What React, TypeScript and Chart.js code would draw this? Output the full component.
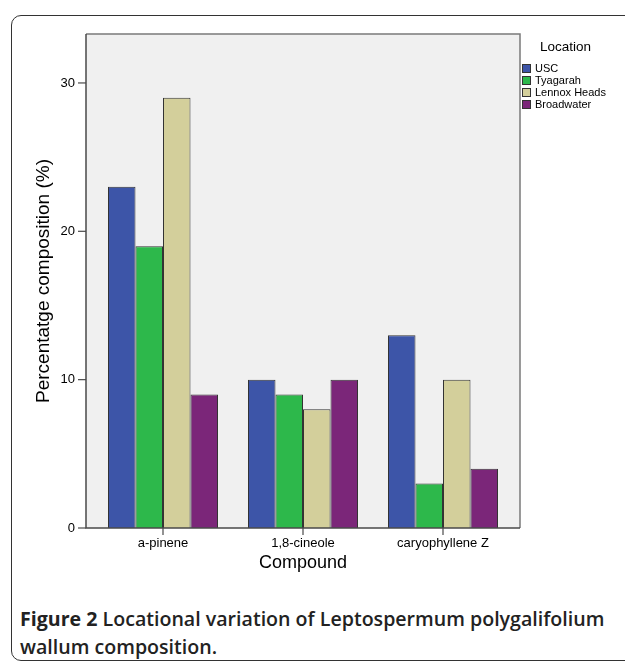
import React, { useEffect, useRef } from "react";
import { Chart, registerables } from "chart.js";

Chart.register(...registerables);

const categories = ["a-pinene", "1,8-cineole", "caryophyllene Z"];
const seriesNames = ["USC", "Tyagarah", "Lennox Heads", "Broadwater"];
const seriesColors = ["#3d55a8", "#2db84b", "#d3cf9b", "#7b2679"];
const uscValues = [23, 10, 13];
const tyagarahValues = [19, 9, 3];
const lennoxValues = [29, 8, 10];
const broadwaterValues = [9, 10, 4];
const yTickValues = [0, 10, 20, 30];
const yMax = 33.3;

const seriesValues = [uscValues, tyagarahValues, lennoxValues, broadwaterValues];

const FONT = "'Liberation Sans', Arial, sans-serif";

const framePlugin = {
  id: "frame",
  beforeDatasetsDraw(chart: any) {
    const { ctx, chartArea: a } = chart;
    const L = a.left - 7;
    const R = a.right + 7;
    ctx.save();
    ctx.fillStyle = "#f0f0f0";
    ctx.fillRect(L, a.top, R - L, a.bottom - a.top);
    ctx.restore();
  },
  afterDatasetsDraw(chart: any) {
    const { ctx, chartArea: a, scales } = chart;
    const L = a.left - 7;
    const R = a.right + 7;
    ctx.save();
    ctx.lineWidth = 1.5;
    ctx.strokeStyle = "#7a7a7a";
    ctx.beginPath();
    ctx.moveTo(L, a.top);
    ctx.lineTo(R, a.top);
    ctx.lineTo(R, a.bottom);
    ctx.stroke();
    ctx.strokeStyle = "#4a4a4a";
    ctx.beginPath();
    ctx.moveTo(L, a.top);
    ctx.lineTo(L, a.bottom);
    ctx.lineTo(R, a.bottom);
    ctx.stroke();
    ctx.lineWidth = 1.2;
    yTickValues.forEach((v) => {
      const y = scales.y.getPixelForValue(v);
      ctx.beginPath();
      ctx.moveTo(L - 8, y);
      ctx.lineTo(L, y);
      ctx.stroke();
    });
    categories.forEach((_, i) => {
      const x = scales.x.getPixelForTick(i);
      ctx.beginPath();
      ctx.moveTo(x, a.bottom);
      ctx.lineTo(x, a.bottom + 7);
      ctx.stroke();
    });
    ctx.restore();
  },
};

export default function App() {
  const ref = useRef<HTMLCanvasElement | null>(null);

  useEffect(() => {
    if (!ref.current) return;
    const chart = new Chart(ref.current, {
      type: "bar",
      data: {
        labels: categories,
        datasets: seriesNames.map((name, i) => ({
          label: name,
          data: seriesValues[i],
          backgroundColor: seriesColors[i],
          borderColor: "#333333",
          borderWidth: 1,
          categoryPercentage: 0.786,
          barPercentage: 1.0,
        })),
      },
      options: {
        animation: false,
        responsive: false,
        maintainAspectRatio: false,
        layout: { padding: { top: 34, right: 112, left: 0, bottom: 0 } },
        plugins: {
          legend: { display: false },
          tooltip: { enabled: false },
        },
        scales: {
          x: {
            grid: { display: false, drawTicks: false },
            border: { display: false },
            ticks: {
              color: "#000",
              padding: 8,
              font: { family: FONT, size: 13 },
            },
            title: {
              display: true,
              text: "Compound",
              color: "#000",
              font: { family: FONT, size: 18 },
              padding: { top: 0, bottom: 16 },
            },
            afterFit: (s: any) => {
              s.height = 62;
            },
          },
          y: {
            min: 0,
            max: yMax,
            grid: { display: false, drawTicks: false },
            border: { display: false },
            afterBuildTicks: (s: any) => {
              s.ticks = yTickValues.map((v) => ({ value: v }));
            },
            ticks: {
              color: "#000",
              padding: 18,
              font: { family: FONT, size: 13 },
            },
            title: {
              display: true,
              text: "Percentatge composition (%)",
              color: "#000",
              font: { family: FONT, size: 19 },
              padding: { top: 32, bottom: 0 },
            },
            afterFit: (s: any) => {
              s.width = 93;
            },
          },
        },
      },
      plugins: [framePlugin],
    });
    return () => chart.destroy();
  }, []);

  return (
    <div
      style={{
        position: "fixed",
        left: 0,
        top: 0,
        width: 625,
        height: 662,
        overflow: "hidden",
        background: "#fff",
      }}
    >
      <div
        style={{
          position: "absolute",
          left: 11,
          top: 15,
          width: 650,
          height: 646,
          border: "1.5px solid #333",
          borderRadius: 10,
          boxSizing: "border-box",
        }}
      />
      <canvas
        ref={ref}
        width={625}
        height={590}
        style={{ position: "absolute", left: 0, top: 0, width: 625, height: 590 }}
      />
      <div
        style={{
          position: "absolute",
          left: 540,
          top: 39,
          fontFamily: FONT,
          fontSize: 13.5,
          lineHeight: "16px",
          color: "#000",
        }}
      >
        Location
      </div>
      {seriesNames.map((name, i) => (
        <div
          key={name}
          style={{
            position: "absolute",
            left: 522,
            top: 62 + i * 12,
            height: 12,
            display: "flex",
            alignItems: "center",
            fontFamily: FONT,
            fontSize: 11,
            color: "#000",
            whiteSpace: "nowrap",
          }}
        >
          <span
            style={{
              display: "inline-block",
              width: 9,
              height: 9,
              boxSizing: "border-box",
              background: seriesColors[i],
              border: "1px solid #333",
              marginRight: 4,
            }}
          />
          {name}
        </div>
      ))}
      <div
        style={{
          position: "absolute",
          left: 20,
          top: 605,
          width: 605,
          fontFamily: "'Open Sans', 'Noto Sans', sans-serif",
          fontSize: 19.6,
          lineHeight: "28px",
          fontWeight: 600,
          color: "#222",
          whiteSpace: "nowrap",
        }}
      >
        <span style={{ fontWeight: 700 }}>Figure 2</span> Locational variation of Leptospermum polygalifolium
        <br />
        wallum composition.
      </div>
    </div>
  );
}
